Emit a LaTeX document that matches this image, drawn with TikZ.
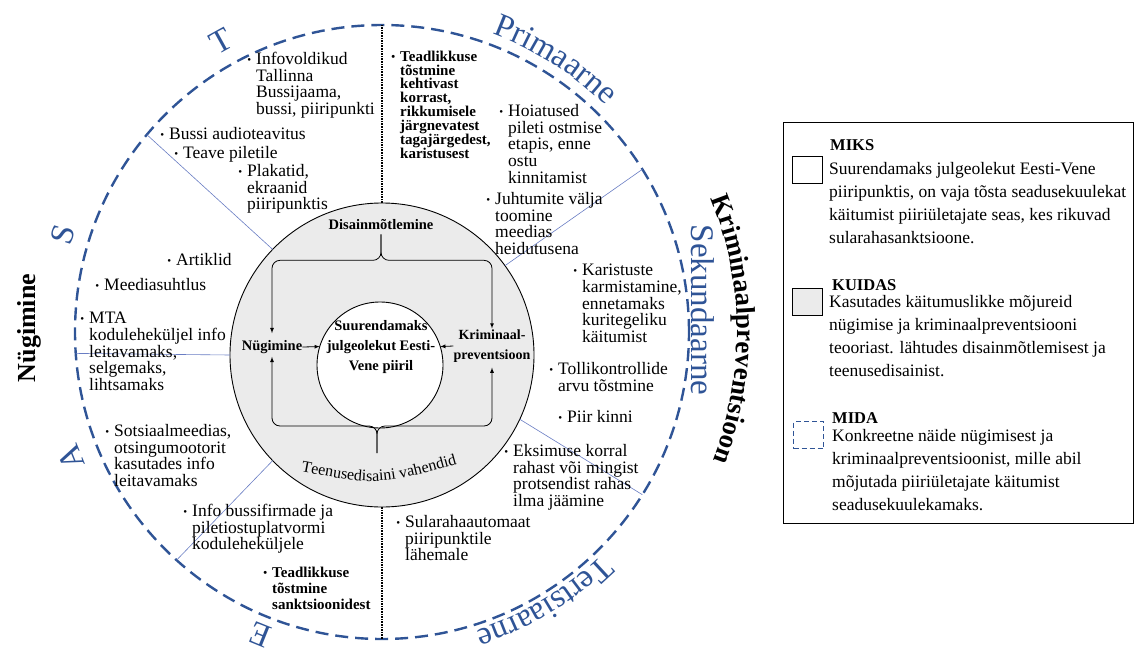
\documentclass[tikz,border=0pt]{standalone}
\usepackage{fontspec}
\setmainfont{Liberation Serif}
\usetikzlibrary{arrows,calc,positioning,decorations.text}
\definecolor{accent}{RGB}{47,84,150}
\definecolor{spoke}{RGB}{105,125,195}
\definecolor{ringgray}{RGB}{235,235,235}
\newcommand{\bul}{\llap{\raisebox{1pt}{\fontsize{11}{11}\selectfont\textbullet}\hspace{5pt}}}
\tikzset{
	item/.style={anchor=north west, align=left, inner sep=0pt, font=\fontsize{17.5}{16.7}\selectfont},
	bitem/.style={item, font=\bfseries\fontsize{15}{13.9}\selectfont},
	inlabel/.style={align=center, inner sep=0pt, font=\bfseries\fontsize{14.5}{20}\selectfont},
	arr/.style={-latex, line width=0.8pt},
	legtext/.style={anchor=north west, align=left, inner sep=0pt, font=\fontsize{17.5}{23}\selectfont},
	legtitle/.style={anchor=west, inner sep=0pt, font=\bfseries\fontsize{16.5}{16.5}\selectfont},
	swatch/.style={draw, line width=0.8pt, minimum width=30pt, minimum height=27pt, inner sep=0pt},
	letter/.style={text=accent, font=\fontsize{33}{33}\selectfont, inner sep=0pt},
	spokeline/.style={spoke, line width=0.6pt},
	disc/.style={circle, draw, inner sep=0pt, outer sep=0pt},
}

\begin{document}
\begin{tikzpicture}[x=1pt,y=1pt]
	\useasboundingbox (0,0) rectangle (1140,-653);
	
	% Circles
	\node [disc, draw=accent, line width=2.4pt, dash pattern=on 13pt off 7pt, minimum size=614pt] (outer) at (382,-332) {};
	\node [disc, fill=ringgray, line width=0.9pt, minimum size=304pt] (ring) at (382,-355) {};
	\node [disc, fill=white, line width=0.9pt, minimum size=126pt] (goal) at (380,-365) {};
	
	% Spokes
	\draw [spokeline] (ring.136) -- (outer.140);
	\draw [spokeline] (ring.36) -- (outer.32);
	\draw [spokeline] (ring.180) -- (outer.184);
	\draw [spokeline] (ring.224) -- (outer.228);
	\draw [spokeline] (ring.-25) -- (outer.-32);
	\draw [densely dotted, line width=1.6pt] (ring.90) -- (outer.90);
	\draw [densely dotted, line width=1.6pt] (ring.-90) -- (outer.-90);
	
	% Inner labels
	\node [inlabel] (disain) at (381,-225) {Disainmõtlemine};
	\node [inlabel] (nudge) at (272,-347) {Nügimine};
	\node [inlabel, font=\bfseries\fontsize{14}{20}\selectfont] (krim) at (492,-346) {Kriminaal-\\preventsioon};
	\node [inlabel] (goaltxt) at (381,-347) {Suurendamaks\\julgeolekut Eesti-\\Vene piiril};
	\coordinate (teen) at (377,-453);
	\path [decorate, decoration={text along path, text align=center,
		text={|\fontsize{16}{16}\selectfont|Teenusedisaini vahendid}}]
		(293,-470) .. controls (378,-486) .. (465,-462);
	
	% Inner arrows
	\draw [arr, rounded corners=8pt, shorten <=4pt, shorten >=7pt] (disain.south) -- ++(0,-30) -| (nudge.north);
	\draw [arr, rounded corners=8pt, shorten <=4pt, shorten >=1pt] (disain.south) -- ++(0,-30) -| (krim.north);
	\draw [arr, rounded corners=8pt, shorten >=3pt] (teen) -- ++(0,27) -| (nudge.south);
	\draw [arr, rounded corners=8pt, shorten >=5pt] (teen) -- ++(0,27) -| (krim.south);
	\draw [arr] (nudge.east) -- (goal.163);
	\draw [arr] (krim.west) -- (goal.17);
	
	% Examples in the ring
	\node [item] (leaflets) at (256,-52) {\bul Infovoldikud\\Tallinna\\Bussijaama,\\bussi, piiripunkti};
	\node [item] (busaudio) at (169,-127) {\bul Bussi audioteavitus};
	\node [item] (ticketinfo) at (183,-146) {\bul Teave piletile};
	\node [item] (posters) at (247,-164) {\bul Plakatid,\\ekraanid\\piiripunktis};
	\node [item] (articles) at (176,-253) {\bul Artiklid};
	\node [item] (media) at (104,-278) {\bul Meediasuhtlus};
	\node [item] (mta) at (89,-312) {\bul MTA\\koduleheküljel info\\leitavamaks,\\selgemaks,\\lihtsamaks};
	\node [item] (social) at (114,-424) {\bul Sotsiaalmeedias,\\otsingumootorit\\kasutades info\\leitavamaks};
	\node [item] (busfirms) at (192,-504) {\bul Info bussifirmade ja\\piletiostuplatvormi\\koduleheküljele};
	\node [bitem, font=\bfseries\fontsize{15}{16}\selectfont] (sanctaware) at (272,-566.5) {\bul Teadlikkuse\\tõstmine\\sanktsioonidest};
	\node [bitem] (ruleaware) at (400,-50.5) {\bul Teadlikkuse\\tõstmine\\kehtivast\\korrast,\\rikkumisele\\järgnevatest\\tagajärgedest,\\karistusest};
	\node [item] (warnings) at (508,-104) {\bul Hoiatused\\pileti ostmise\\etapis, enne\\ostu\\kinnitamist};
	\node [item] (cases) at (495,-192) {\bul Juhtumite välja\\toomine\\meedias\\heidutusena};
	\node [item] (penalties) at (582,-264) {\bul Karistuste\\karmistamine,\\ennetamaks\\kuritegeliku\\käitumist};
	\node [item] (customs) at (558,-362) {\bul Tollikontrollide\\arvu tõstmine};
	\node [item] (closed) at (567,-410) {\bul Piir kinni};
	\node [item] (fines) at (513,-444) {\bul Eksimuse korral\\rahast või mingist\\protsendist rahas\\ilma jäämine};
	\node [item] (atm) at (405,-515) {\bul Sularahaautomaat\\piiripunktile\\lähemale};
	
	% Labels round the circle
	\begin{scope}[shift={(382,-332)}]
		\node [letter, rotate=29] (lblT) at (119:332) {T};
		\node [letter, rotate=73] (lblS) at (163:334) {S};
		\node [letter, rotate=112] (lblA) at (202:335) {A};
		\node [letter, rotate=158] (lblE) at (248:326) {E};
		\path [decorate, decoration={text along path, text align=center, text color=accent,
			text={|\fontsize{33}{33}\selectfont|Primaarne}}] (82:318) arc [start angle=82, end angle=33, radius=318];
		\path [decorate, decoration={text along path, text align=center, text color=accent,
			text={|\fontsize{33}{33}\selectfont|Tertsiaarne}}] (-28:313) arc [start angle=-28, end angle=-90, radius=313];
		\path [decorate, decoration={text along path, text align=center,
			text={|\bfseries\fontsize{27}{27}\selectfont|Kriminaalpreventsioon}}] (31:355) arc [start angle=31, end angle=-30, radius=355];
	\end{scope}
	\node [letter, rotate=-90] (lblsek) at (703,-310) {Sekundaarne};
	\node [rotate=90, inner sep=0pt, font=\bfseries\fontsize{26}{26}\selectfont] (lblnudge) at (29,-328) {Nügimine};
	
	% Legend
	\node [draw, line width=0.8pt, anchor=north west, minimum width=350pt, minimum height=401pt, inner sep=0pt] (legend) at (783,-122) {};
	\node [swatch, fill=white] (keywhy) at (807,-169.5) {};
	\node [swatch, fill=ringgray] (keyhow) at (807,-301.5) {};
	\node [swatch, draw=accent, line width=1.2pt, dash pattern=on 5pt off 3pt] (keywhat) at (808.5,-435) {};
	\node [legtitle] (why) at (830,-145) {MIKS};
	\node [legtext] (whytxt) at (829,-162) {Suurendamaks julgeolekut Eesti-Vene\\piiripunktis, on vaja tõsta seadusekuulekat\\käitumist piiriületajate seas, kes rikuvad\\sularahasanktsioone.};
	\node [legtitle] (how) at (832,-285) {KUIDAS};
	\node [legtext] (howtxt) at (829,-295) {Kasutades käitumuslikke mõjureid\\nügimise ja kriminaalpreventsiooni\\teooriast. lähtudes disainmõtlemisest ja\\teenusedisainist.};
	\node [legtitle] (what) at (832,-418) {MIDA};
	\node [legtext] (whattxt) at (832,-429) {Konkreetne näide nügimisest ja\\kriminaalpreventsioonist, mille abil\\mõjutada piiriületajate käitumist\\seadusekuulekamaks.};
\end{tikzpicture}
\end{document}
